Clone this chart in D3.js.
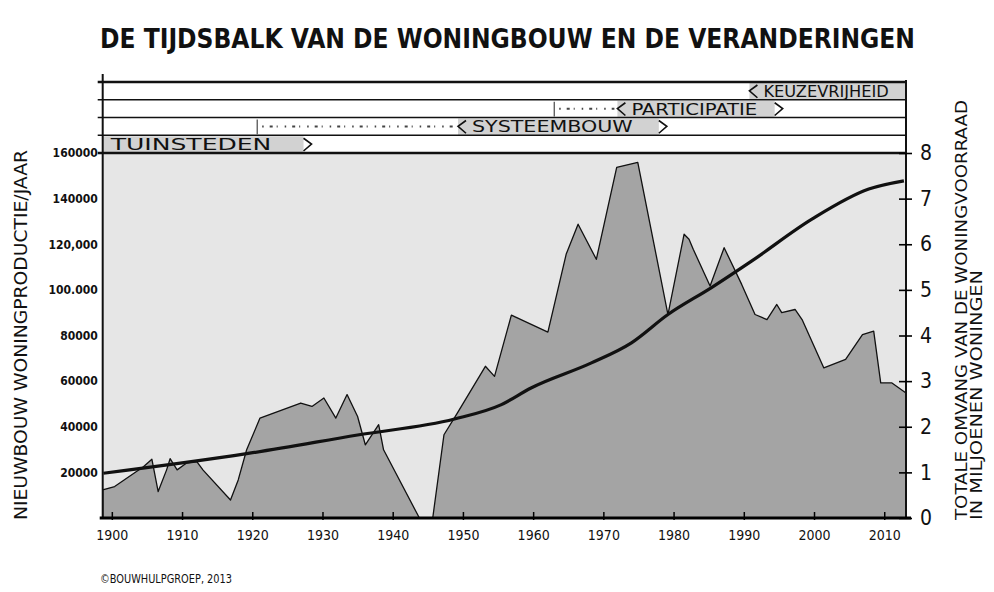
<!DOCTYPE html>
<html>
<head>
<meta charset="utf-8">
<script src="https://cdn.jsdelivr.net/npm/d3@7"></script>
<style>
  body { margin: 0; background: #fff; }
  svg text { font-family: "Liberation Sans Narrow", "DejaVu Sans Condensed", sans-serif; fill: #111; }
</style>
</head>
<body>
<svg id="chart" width="994" height="592"></svg>
<script>
// housing production per year
var prodYears = [1898.7, 1900.4, 1904.5, 1905.7, 1906.6, 1907.8, 1908.3, 1909.3, 1910.7, 1912.1, 1913,
  1916.9, 1918, 1919.2, 1921.1, 1926.9, 1928.5, 1930.2, 1931.9, 1933.5, 1935, 1936.1, 1938, 1938.7,
  1943.8, 1945.7, 1947.3, 1949.2, 1953.2, 1954.5, 1956.9, 1962.1, 1964.7, 1966.4, 1969, 1971.9, 1974.9,
  1979.2, 1981.5, 1982.2, 1982.8, 1985.2, 1987.2, 1989.7, 1991.6, 1993.3, 1994.7, 1995.4, 1997.3, 1998.3,
  2001.4, 2004.5, 2006.9, 2008.5, 2009.5, 2011.1, 2013.1];
var production = [12300, 13800, 22500, 25800, 11600, 21100, 26000, 21100, 24200, 24700, 21000,
  7900, 16700, 29900, 43800, 50400, 48900, 52600, 43800, 54100, 44500, 32100, 40900, 29900,
  0, 0, 36500, 46000, 66500, 62100, 88900, 81500, 115600, 128800, 113400, 153700, 155900,
  89200, 124400, 122200, 117800, 101700, 118500, 102400, 89200, 87000, 93600, 90000, 91400, 87000,
  65800, 69500, 80400, 81900, 59200, 59200, 54800];

// total housing stock, millions
var stockYears = [1898.8, 1919.2, 1935, 1948.8, 1955.4, 1959.7, 1968.3, 1974, 1979.2, 1985.4, 1991.1, 1999.7, 2007.8, 2012.8];
var stock = [0.98, 1.41, 1.82, 2.17, 2.48, 2.85, 3.40, 3.84, 4.46, 5.05, 5.63, 6.55, 7.21, 7.39];

var xTicks = [1900, 1910, 1920, 1930, 1940, 1950, 1960, 1970, 1980, 1990, 2000, 2010];
var leftTicks = [20000, 40000, 60000, 80000, 100000, 120000, 140000, 160000];
var leftTickLabels = ["20000", "40000", "60000", "80000", "100.000", "120,000", "140000", "160000"];
var rightTicks = [0, 1, 2, 3, 4, 5, 6, 7, 8];

// timeline bands, top row first
var bandNames = ["KEUZEVRIJHEID", "PARTICIPATIE", "SYSTEEMBOUW", "TUINSTEDEN"];
var bandDotted = [null, 1963, 1920.7, null];
var bandFrom = [1990.8, 1972, 1949.3, null];
var bandTo = [null, 1994.4, 1977.9, 1927.3];

var svg = d3.select("#chart");

var pLeft = 102.7, pRight = 906, pBottom = 518, pTop = 153, bandTop = 82;

var x = d3.scaleLinear().domain([1898.7, 2013.1]).range([pLeft, pRight]);
var y = d3.scaleLinear().domain([0, 160000]).range([pBottom, pTop]);
var y2 = d3.scaleLinear().domain([0, 8]).range([pBottom, pTop]);

// title
svg.append("text")
  .attr("x", 100).attr("y", 48)
  .attr("textLength", 815).attr("lengthAdjust", "spacingAndGlyphs")
  .style("font-size", "27px").style("font-weight", "bold")
  .text("DE TIJDSBALK VAN DE WONINGBOUW EN DE VERANDERINGEN");

// plot background
svg.append("rect")
  .attr("x", pLeft).attr("y", pTop)
  .attr("width", pRight - pLeft).attr("height", pBottom - pTop)
  .attr("fill", "#e6e6e6");

// production area
var area = d3.area()
  .x(function(d, i) { return x(prodYears[i]); })
  .y0(pBottom)
  .y1(function(d) { return y(d); });

svg.append("path")
  .datum(production)
  .attr("d", area)
  .attr("fill", "#a4a4a4")
  .attr("stroke", "#111")
  .attr("stroke-width", 1.3)
  .attr("stroke-linejoin", "round");

// stock line
var line = d3.line()
  .x(function(d, i) { return x(stockYears[i]); })
  .y(function(d) { return y2(d); })
  .curve(d3.curveMonotoneX);

svg.append("path")
  .datum(stock)
  .attr("d", line)
  .attr("fill", "none")
  .attr("stroke", "#111")
  .attr("stroke-width", 3.2);

// timeline bands
var rowH = (pTop - bandTop) / 4;
var bands = svg.append("g");
bandNames.forEach(function(name, i) {
  var y0 = bandTop + i * rowH, mid = y0 + rowH / 2;
  var x0 = bandFrom[i] == null ? pLeft : x(bandFrom[i]);
  var x1 = bandTo[i] == null ? pRight : x(bandTo[i]);
  if (bandDotted[i] != null) {
    var xd = x(bandDotted[i]);
    bands.append("line")
      .attr("x1", xd).attr("x2", xd).attr("y1", y0 + 2).attr("y2", y0 + rowH - 1)
      .attr("stroke", "#222").attr("stroke-width", 1);
    bands.append("line")
      .attr("x1", xd + 5).attr("x2", x0 - 3).attr("y1", mid).attr("y2", mid)
      .attr("stroke", "#444").attr("stroke-width", 2)
      .attr("stroke-dasharray", "1.5 6 3 4 1 7");
  }
  bands.append("rect")
    .attr("x", x0).attr("y", y0 + 1)
    .attr("width", x1 - x0).attr("height", rowH - 1)
    .attr("fill", "#d2d2d2");
  if (bandFrom[i] != null) {
    bands.append("path")
      .attr("d", "M" + (x0 + 8) + "," + (y0 + 3) + "L" + x0 + "," + mid + "L" + (x0 + 8) + "," + (y0 + rowH - 2))
      .attr("fill", "none").attr("stroke", "#111").attr("stroke-width", 1.6);
  }
  if (bandTo[i] != null) {
    bands.append("path")
      .attr("d", "M" + x1 + "," + (y0 + 3) + "L" + (x1 + 8) + "," + mid + "L" + x1 + "," + (y0 + rowH - 2))
      .attr("fill", "none").attr("stroke", "#111").attr("stroke-width", 1.6);
  }
  bands.append("text")
    .attr("x", bandFrom[i] == null ? pLeft + 8 : x0 + 14)
    .attr("y", mid + 6)
    .attr("textLength", (x1 - x0) * 0.8).attr("lengthAdjust", "spacingAndGlyphs")
    .style("font-size", "16px")
    .text(name);
});

// band row lines
[0, 1, 2, 3, 4].forEach(function(k) {
  svg.append("line")
    .attr("x1", pLeft - 5).attr("x2", pRight)
    .attr("y1", bandTop + k * rowH).attr("y2", bandTop + k * rowH)
    .attr("stroke", "#111")
    .attr("stroke-width", (k == 0 || k == 4) ? 2.6 : 1.3);
});

// frame sides
svg.append("line").attr("x1", pLeft).attr("x2", pLeft).attr("y1", bandTop - 8).attr("y2", pBottom)
  .attr("stroke", "#111").attr("stroke-width", 2);
svg.append("line").attr("x1", pRight).attr("x2", pRight).attr("y1", bandTop - 2).attr("y2", pBottom)
  .attr("stroke", "#111").attr("stroke-width", 2);

// bottom axis
var xAxis = svg.append("g")
  .attr("transform", "translate(0," + pBottom + ")")
  .call(d3.axisBottom(x).tickValues(xTicks).tickFormat(d3.format("d")).tickSize(-6).tickPadding(12));
xAxis.select(".domain").attr("stroke-width", 3).attr("d", "M" + (pLeft - 3) + ",0H" + (pRight + 5));
xAxis.selectAll(".tick line").attr("y2", -6).attr("y1", 2).attr("stroke-width", 1.5);
xAxis.selectAll(".tick text").style("font-size", "14px");

// left axis labels
var yAxis = svg.append("g")
  .attr("transform", "translate(" + (pLeft - 2) + ",0)")
  .call(d3.axisLeft(y).tickValues(leftTicks).tickSize(0).tickPadding(3)
    .tickFormat(function(d, i) { return leftTickLabels[i]; }));
yAxis.select(".domain").remove();
yAxis.selectAll(".tick text").style("font-size", "12px").style("font-weight", "bold");

// right axis
var y2Axis = svg.append("g")
  .attr("transform", "translate(" + pRight + ",0)")
  .call(d3.axisRight(y2).tickValues(rightTicks).tickSize(6).tickPadding(8));
y2Axis.select(".domain").remove();
y2Axis.selectAll(".tick line").attr("x1", -7).attr("stroke-width", 1.6);
y2Axis.selectAll(".tick text").style("font-size", "21px");

// axis titles
svg.append("text")
  .attr("transform", "translate(27,335) rotate(-90)")
  .attr("text-anchor", "middle")
  .attr("textLength", 370).attr("lengthAdjust", "spacingAndGlyphs")
  .style("font-size", "17px")
  .text("NIEUWBOUW WONINGPRODUCTIE/JAAR");

svg.append("text")
  .attr("transform", "translate(967,520) rotate(-90)")
  .attr("textLength", 420).attr("lengthAdjust", "spacingAndGlyphs")
  .style("font-size", "15px")
  .text("TOTALE OMVANG VAN DE WONINGVOORRAAD");
svg.append("text")
  .attr("transform", "translate(982,520) rotate(-90)")
  .attr("textLength", 250).attr("lengthAdjust", "spacingAndGlyphs")
  .style("font-size", "15px")
  .text("IN MILJOENEN WONINGEN");

// credit
svg.append("text")
  .attr("x", 100).attr("y", 583)
  .attr("textLength", 132).attr("lengthAdjust", "spacingAndGlyphs")
  .style("font-size", "12px")
  .text("©BOUWHULPGROEP, 2013");
</script>
</body>
</html>
